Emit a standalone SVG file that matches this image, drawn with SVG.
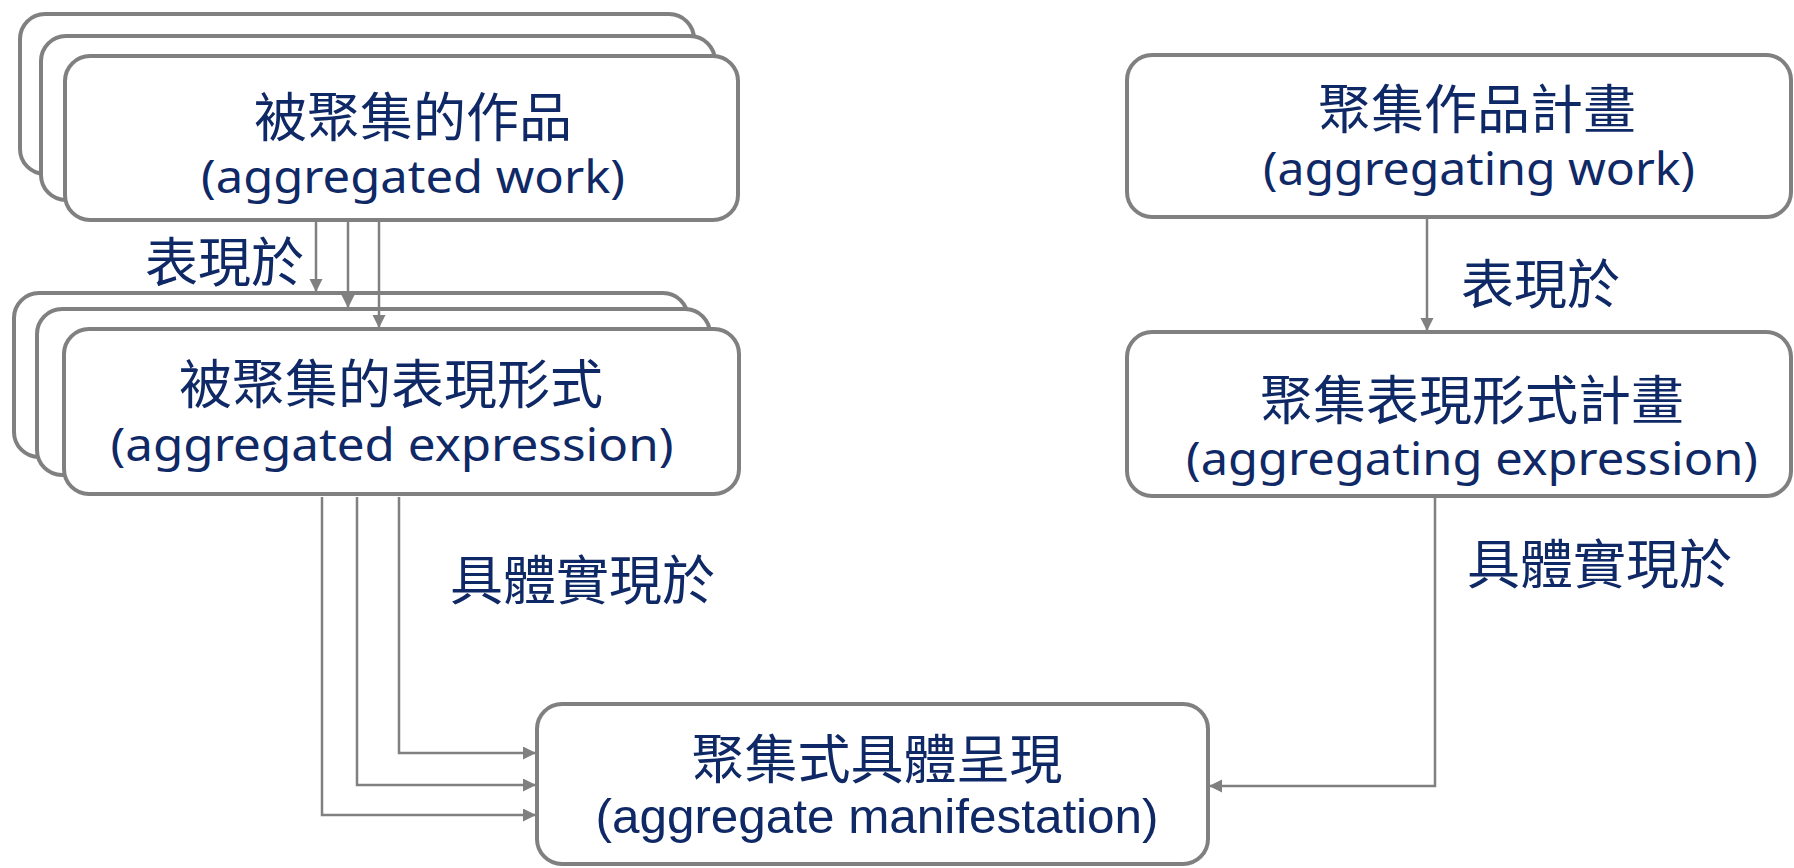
<svg xmlns="http://www.w3.org/2000/svg" width="1794" height="868" viewBox="0 0 1794 868">
<style>
.box{fill:#fff;stroke:#808080;stroke-width:4}
.cjk{font-family:"Noto Sans CJK TC","Noto Sans CJK SC",sans-serif;font-size:53px;fill:#0f2866}
.en{font-family:"Noto Sans","Open Sans",sans-serif;font-size:46px;fill:#0f2866}
.ar{font-family:"Liberation Sans",Arial,sans-serif;font-size:48px;fill:#0f2866}
.c{text-anchor:middle}
.conn path{fill:none;stroke:#808080;stroke-width:2.5}
</style>
<defs>
<marker id="ah" markerUnits="userSpaceOnUse" markerWidth="14" markerHeight="14" refX="13" refY="6.5" orient="auto">
<path d="M0,0 L13,6.5 L0,13 z" fill="#808080"/>
</marker>
</defs>
<rect x="0" y="0" width="1794" height="868" fill="#fff"/>
<g id="aggregated-work">
<rect class="box" x="20" y="14" width="674" height="160" rx="25"/>
<rect class="box" x="41" y="36" width="674" height="164" rx="25"/>
<rect class="box" x="65" y="56" width="673" height="164" rx="25"/>
<text class="cjk c" x="413" y="137">被聚集的作品</text>
<text class="en c" x="413" y="193" textLength="424" lengthAdjust="spacingAndGlyphs">(aggregated work)</text>
</g>
<g id="aggregated-expression">
<rect class="box" x="14" y="293" width="674" height="164" rx="25"/>
<rect class="box" x="37" y="309" width="673" height="166" rx="25"/>
<rect class="box" x="64" y="329" width="675" height="165" rx="25"/>
<text class="cjk c" x="391" y="404">被聚集的表現形式</text>
<text class="en c" x="392" y="461" textLength="563" lengthAdjust="spacingAndGlyphs">(aggregated expression)</text>
</g>
<g id="aggregating-work">
<rect class="box" x="1127" y="55" width="664" height="162" rx="25"/>
<text class="cjk c" x="1477" y="129">聚集作品計畫</text>
<text class="en c" x="1479" y="185" textLength="432" lengthAdjust="spacingAndGlyphs">(aggregating work)</text>
</g>
<g id="aggregating-expression">
<rect class="box" x="1127" y="332" width="664" height="164" rx="25"/>
<text class="cjk c" x="1472" y="420">聚集表現形式計畫</text>
<text class="en c" x="1472" y="475" textLength="572" lengthAdjust="spacingAndGlyphs">(aggregating expression)</text>
</g>
<g id="aggregate-manifestation">
<rect class="box" x="537" y="704" width="671" height="160" rx="25"/>
<text class="cjk c" x="877" y="779">聚集式具體呈現</text>
<text class="ar c" x="877" y="833" textLength="563" lengthAdjust="spacingAndGlyphs">(aggregate manifestation)</text>
</g>
<g id="connectors" class="conn">
<path d="M316 222 V292" marker-end="url(#ah)"/>
<path d="M348 222 V308" marker-end="url(#ah)"/>
<path d="M379 222 V328" marker-end="url(#ah)"/>
<path d="M1427 219 V331" marker-end="url(#ah)"/>
<path d="M399 497 V753 H536" marker-end="url(#ah)"/>
<path d="M357 497 V785 H536" marker-end="url(#ah)"/>
<path d="M322 497 V815 H536" marker-end="url(#ah)"/>
<path d="M1435 498 V786 H1209" marker-end="url(#ah)"/>
</g>
<g id="labels">
<text class="cjk" x="145" y="282">表現於</text>
<text class="cjk" x="1461" y="304">表現於</text>
<text class="cjk" x="450" y="600">具體實現於</text>
<text class="cjk" x="1467" y="584">具體實現於</text>
</g>
</svg>
